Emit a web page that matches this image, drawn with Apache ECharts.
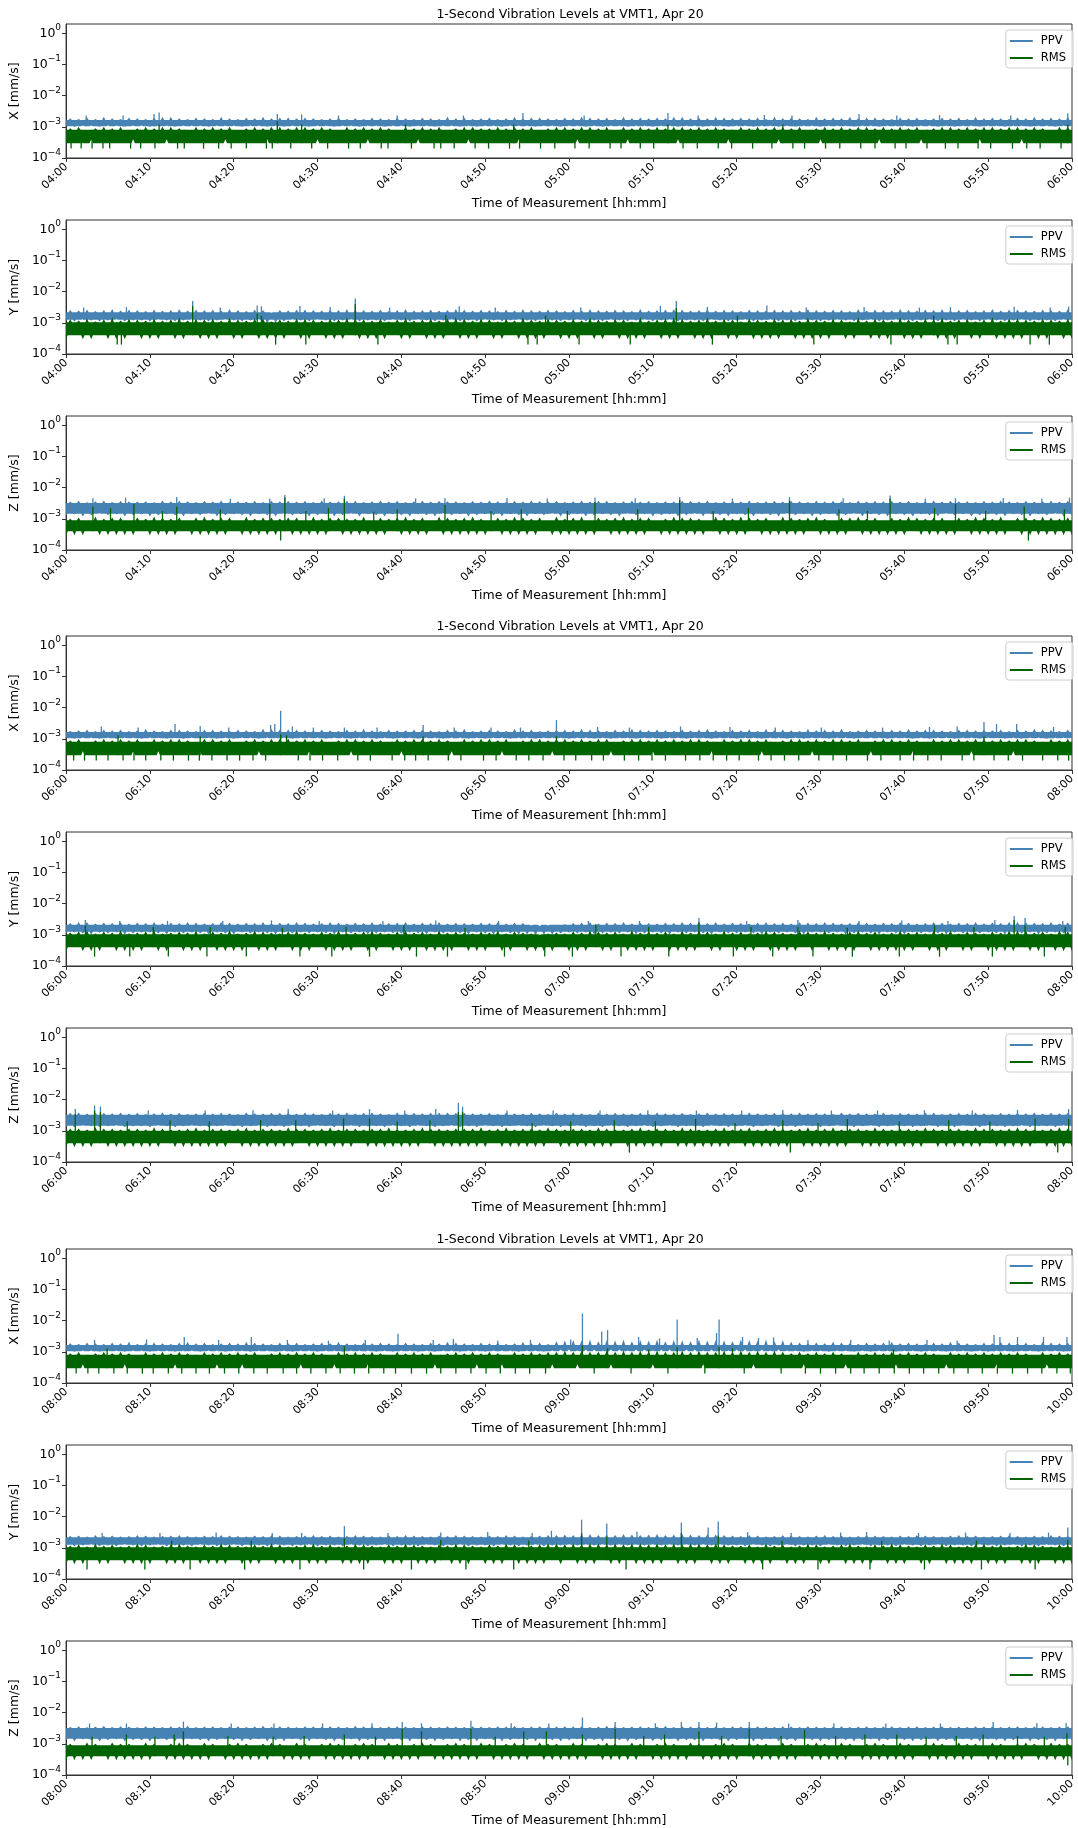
<!DOCTYPE html>
<html><head><meta charset="utf-8">
<script src="https://cdn.jsdelivr.net/npm/echarts@6/dist/echarts.min.js"></script>
<style>html,body{margin:0;padding:0;background:#fff}#c{width:1078px;height:1828px}</style>
</head><body><div id="c"></div>
<script>
// All velocity values below are in units of 1e-4 mm/s (the sensor resolution).
// *_BODY: [lower, upper] level of the solid part of the trace band
// *_HI  : highest sample in each minute (drawn at minute + 30 s)
// *_LO  : lowest sample at each minute mark (0..120 min)
// *_SPK : isolated 1-second peaks / dips as [minute, value]
const UNIT = 1e-4;
const TITLE = '1-Second Vibration Levels at VMT1, Apr 20';
const TICKS_04 = ['04:00','04:10','04:20','04:30','04:40','04:50','05:00','05:10','05:20','05:30','05:40','05:50','06:00'];
const TICKS_06 = ['06:00','06:10','06:20','06:30','06:40','06:50','07:00','07:10','07:20','07:30','07:40','07:50','08:00'];
const TICKS_08 = ['08:00','08:10','08:20','08:30','08:40','08:50','09:00','09:10','09:20','09:30','09:40','09:50','10:00'];

// ---------- X, 04:00-06:00 ----------
const X04_PPV_BODY = [10.5, 16.5];
const X04_RMS_BODY = [3, 8];
const X04_PPV_HI = [
19,18,20,18,21,19,18,20,19,18,
20,21,21,19,18,20,19,18,21,19,
18,20,19,21,19,20,20,19,20,19,
18,19,20,18,19,18,20,19,18,20,
19,18,20,19,18,21,19,20,18,19,
20,18,19,21,19,20,20,19,18,20,
19,21,20,19,20,18,21,19,20,19,
20,19,21,21,19,20,19,21,20,19,
20,19,20,18,21,19,20,19,18,21,
19,20,19,21,19,20,20,19,18,20,
19,20,18,19,20,19,20,18,21,19,
20,19,18,20,19,21,19,20,19,21];
const X04_PPV_LO = [
11,10,11,11,10,11,11,10,11,11,
10,11,11,10,11,11,11,10,11,11,
11,10,11,11,10,11,10,11,11,10,
11,11,10,11,11,10,11,11,10,11,
11,10,11,11,10,11,11,10,11,10,
11,11,10,11,11,11,10,11,11,10,
11,11,10,11,10,11,11,10,11,11,
10,11,11,10,11,11,10,11,11,10,
11,11,10,11,11,10,11,10,11,11,
10,11,11,11,10,11,11,10,11,11,
11,10,11,11,10,11,10,11,11,10,
11,11,10,11,11,10,11,11,10,11,
11];
const X04_RMS_HI = [
9,10,8,9,10,9,10,8,9,10,
9,10,10,9,8,10,9,10,9,10,
8,9,10,9,10,10,9,10,10,9,
10,9,8,10,9,10,9,10,9,8,
10,9,10,9,10,8,9,10,10,9,
9,10,9,10,9,10,8,9,10,10,
9,10,10,9,10,8,10,9,10,9,
10,9,10,10,9,10,9,10,9,8,
10,9,10,9,10,10,9,10,8,9,
10,9,10,9,10,10,9,10,9,10,
9,10,8,9,10,10,9,10,9,10,
10,9,10,10,9,10,9,8,10,10];
const X04_RMS_LO = [
3,3,3,4,3,3,3,3,4,3,
3,3,4,3,3,3,3,3,3,4,
3,3,3,3,4,3,3,3,3,3,
4,3,3,3,3,3,4,3,3,3,
3,3,4,3,3,3,3,3,4,3,
3,3,3,3,4,3,3,3,3,3,
3,4,3,3,3,3,3,4,3,3,
3,3,3,4,3,3,3,3,3,4,
3,3,3,3,3,4,3,3,3,3,
4,3,3,3,3,3,3,4,3,3,
3,3,4,3,3,3,3,3,3,4,
3,3,3,3,4,3,3,3,3,3,
3];
const X04_PPV_SPK = [[2.4,23],[6.8,23],[10.5,26],[11.1,29],[25.2,26],[28.1,25],[32.5,23],[39.5,23],[47.4,23],[54.5,28],[61.8,23],[71.8,28],[75.4,23],[83.3,24],[86.6,23],[94.6,26],[99.1,23],[104.2,24],[112.7,23],[119.5,27]];
const X04_RMS_SPK = [[11.1,12],[25.2,15],[28.1,12],[40.5,12],[53.4,12],[71.8,12],[85.5,12],[119.5,12],
[0.6,2],[1.8,2],[3.1,2],[4.4,2],[5.2,2],[7.7,2],[8.9,2],[10.6,2],[13.3,2],[14.1,2],[16.4,2],[18.2,2],[19.7,2],[21.5,2],[23.9,2],[24.6,2],[26.8,2],[29.3,2],[31.2,2],[33.7,2],[35.1,2],[37.6,2],[38.4,2],[41.2,2],[43.9,2],[44.7,2],[46.3,2],[48.8,2],[50.4,2],[52.9,2],[54.1,2],[56.6,2],[58.3,2],[60.7,2],[62.4,2],[64.9,2],[66.2,2],[68.5,2],[70.1,2],[73.6,2],[75.3,2],[77.8,2],[79.4,2],[81.9,2],[84.2,2],[86.7,2],[88.1,2],[90.6,2],[92.3,2],[94.8,2],[96.5,2],[98.9,2],[100.2,2],[102.7,2],[104.9,2],[106.4,2],[108.8,2],[110.3,2],[112.9,2],[114.6,2],[116.2,2],[118.7,2]];

// ---------- Y, 04:00-06:00 ----------
const Y04_PPV_BODY = [12.5, 22];
const Y04_RMS_BODY = [4, 10.5];
const Y04_PPV_HI = [
26,25,27,24,26,28,25,27,26,24,
27,25,26,28,25,27,26,27,25,28,
26,24,27,26,21,26,25,27,27,26,
25,27,26,28,26,26,25,27,24,26,
28,25,26,27,25,26,28,27,25,27,
26,24,27,25,28,26,25,27,26,24,
27,25,28,26,25,27,26,24,28,25,
26,27,28,27,25,26,28,25,27,26,
24,27,26,25,27,26,27,25,28,26,
25,27,26,24,28,25,27,26,25,28,
26,25,27,26,28,25,26,27,24,26,
28,25,27,27,26,25,27,26,25,28];
const Y04_PPV_LO = [
12,11,13,12,11,12,13,11,12,12,
11,13,12,11,12,13,12,11,12,13,
12,11,12,13,9,10,11,13,12,11,
13,12,11,12,13,11,12,12,11,13,
12,11,13,12,11,12,13,11,12,11,
13,12,11,12,13,12,11,13,12,11,
12,13,11,12,11,13,12,11,12,13,
11,12,13,11,12,12,11,13,12,11,
12,13,11,12,13,11,12,11,13,12,
11,12,13,12,11,12,13,11,12,13,
12,11,12,13,11,12,11,13,12,11,
13,12,11,12,13,11,12,12,11,13,
12];
const Y04_RMS_HI = [
13,12,14,11,13,15,12,14,13,12,
14,12,13,15,12,14,13,14,12,15,
13,12,14,14,11,13,12,14,14,13,
12,14,13,15,14,13,12,14,11,13,
15,12,13,14,12,14,15,14,12,14,
13,11,14,12,15,13,12,14,13,12,
14,12,15,13,12,14,13,11,15,12,
13,14,15,14,12,13,15,12,14,13,
11,14,13,12,14,13,14,12,15,13,
12,14,13,11,15,12,14,13,12,15,
13,12,14,13,15,12,13,14,11,13,
15,12,14,14,13,12,14,13,12,14];
const Y04_RMS_LO = [
3,4,3,3,4,3,3,3,4,3,
3,3,4,3,3,4,3,3,3,4,
3,3,4,3,3,3,3,4,3,3,
4,3,3,3,4,3,3,3,3,4,
3,3,4,3,3,3,4,3,3,3,
4,3,3,4,3,3,3,3,4,3,
3,3,4,3,3,4,3,3,3,3,
4,3,3,3,4,3,3,3,4,3,
3,4,3,3,3,3,4,3,3,3,
3,3,4,3,3,4,3,3,3,4,
3,3,3,4,3,3,3,4,3,3,
4,3,3,3,3,4,3,3,4,3,
3];
const Y04_PPV_SPK = [[2.1,31],[7.2,32],[15.1,50],[18.4,31],[22.8,36],[23.3,34],[27.9,35],[31.5,32],[34.5,60],[38.6,31],[46.9,34],[51.2,31],[61.4,31],[70.9,35],[72.8,50],[76.5,32],[83.6,36],[88.3,31],[95.2,32],[101.8,31],[105.5,32],[113.1,33],[117.4,31],[119.6,33]];
const Y04_RMS_SPK = [[15.1,35],[34.5,40],[72.8,30],[22.8,20],[45.3,18],[23.3,17],[57.2,17],[80.1,17],[103.5,17],
[6.1,2],[6.6,2],[25.0,2],[28.6,2],[37.2,2],[55.1,2],[56.2,2],[61.2,2],[67.3,2],[77.1,2],[89.2,2],[98.4,2],[105.2,2],[106.3,2],[115.0,2],[117.3,2]];

// ---------- Z, 04:00-06:00 ----------
const Z04_PPV_BODY = [14.5, 32.5];
const Z04_RMS_BODY = [4, 9];
const Z04_PPV_HI = [
36,38,34,37,39,35,38,37,36,37,
34,39,36,38,37,35,38,36,39,34,
37,36,38,35,38,37,38,36,38,35,
39,36,37,38,38,35,37,39,36,38,
35,37,39,36,38,37,37,35,38,36,
39,37,35,38,36,39,37,36,38,35,
37,39,36,38,38,35,37,39,36,38,
35,37,36,38,38,36,39,35,37,38,
36,39,35,37,38,36,38,37,35,39,
36,38,37,35,39,36,38,37,38,36,
38,35,37,39,36,38,37,37,35,38,
36,39,37,35,38,36,37,39,36,38];
const Z04_PPV_LO = [
13,14,12,13,15,13,14,12,13,14,
12,13,14,13,12,14,13,15,12,13,
14,13,12,14,13,12,15,13,14,12,
13,14,12,13,15,12,14,13,12,14,
13,12,14,13,12,15,13,14,12,13,
14,13,12,14,13,12,14,13,15,12,
13,14,12,13,14,13,12,15,13,14,
12,13,14,12,13,15,12,14,13,12,
14,13,12,14,13,12,15,13,14,12,
13,14,12,13,15,12,14,13,12,14,
13,12,14,13,12,15,13,14,12,13,
14,13,12,14,13,12,14,13,15,12,
13];
const Z04_RMS_HI = [
10,11,9,12,10,11,11,9,11,10,
12,11,10,11,9,11,12,10,11,11,
9,12,10,11,11,10,11,11,9,12,
10,11,11,10,10,12,9,11,10,11,
12,10,11,9,12,11,10,11,12,10,
9,11,10,12,11,10,11,9,12,10,
11,12,9,11,10,11,12,10,11,11,
9,10,12,11,11,10,9,12,11,10,
12,11,10,11,9,12,11,10,11,12,
10,9,11,11,12,10,11,9,11,10,
12,11,10,11,11,9,11,10,12,11,
10,12,9,11,11,10,12,11,10,11];
const Z04_RMS_LO = [
3,3,3,4,3,3,3,3,3,4,
3,3,3,3,4,3,3,3,3,3,
4,3,3,3,3,3,4,3,3,3,
3,3,4,3,3,3,3,3,3,4,
3,3,3,3,4,3,3,3,3,3,
3,4,3,3,3,3,3,4,3,3,
3,3,3,3,4,3,3,3,3,3,
4,3,3,3,3,3,3,4,3,3,
3,3,4,3,3,3,3,3,3,4,
3,3,3,3,4,3,3,3,3,3,
3,4,3,3,3,3,3,4,3,3,
3,3,3,4,3,3,3,3,3,3,
3];
const Z04_PPV_SPK = [[3.2,46],[7.1,48],[13.2,50],[19.6,45],[24.3,45],[26.1,58],[30.8,46],[33.2,55],[41.7,45],[45.2,46],[52.6,47],[57.4,45],[63.1,48],[67.9,46],[73.2,50],[79.5,45],[86.3,50],[92.7,46],[98.3,56],[102.5,45],[106.1,46],[111.8,47],[116.4,45],[119.7,48]];
const Z04_RMS_SPK = [[3.2,25],[5.3,22],[8.1,30],[11.5,18],[13.2,25],[18.4,20],[24.3,30],[26.1,48],[28.6,18],[31.3,22],[33.2,45],[36.7,17],[39.5,20],[45.2,28],[50.7,18],[54.3,20],[59.8,18],[63.1,35],[68.2,20],[73.2,40],[77.2,18],[81.4,22],[86.3,38],[92.2,20],[95.6,18],[98.3,45],[103.6,22],[106.1,30],[109.7,18],[114.3,25],[119.1,20],
[25.6,2],[114.8,2]];

// ---------- X, 06:00-08:00 ----------
const X06_PPV_BODY = [10.5, 16.5];
const X06_RMS_BODY = [3, 8];
const X06_PPV_HI = [
18,19,20,18,20,19,20,18,19,21,
19,18,20,20,19,18,20,20,19,18,
20,19,18,21,21,20,20,20,19,18,
20,19,18,20,19,21,19,18,20,19,
19,20,20,19,18,20,19,21,18,19,
20,19,18,21,19,20,18,19,20,20,
19,21,20,19,18,20,19,21,20,19,
20,19,18,20,19,20,21,19,18,20,
19,20,18,21,19,20,19,18,21,19,
20,19,21,18,19,20,19,18,20,19,
21,19,20,20,19,18,20,20,19,20,
19,20,18,20,19,21,20,19,18,20];
const X06_PPV_LO = [
11,10,11,11,10,11,10,11,11,10,
11,11,10,11,10,11,11,11,10,11,
10,11,11,10,11,11,11,10,11,11,
11,10,11,11,10,11,11,10,11,10,
11,11,10,11,11,10,11,11,10,11,
10,11,11,10,11,11,10,11,11,11,
10,11,11,10,11,10,11,11,10,11,
11,10,11,11,10,11,11,10,11,11,
10,11,11,10,11,11,10,11,10,11,
11,10,11,11,10,11,11,11,10,11,
11,10,11,10,11,11,10,11,11,10,
11,11,10,11,10,11,11,10,11,11,
11];
const X06_RMS_HI = [
9,10,8,9,10,9,10,9,10,8,
10,9,10,10,9,8,10,10,9,10,
8,9,10,9,10,10,10,9,10,9,
10,8,9,10,10,9,10,9,8,10,
9,10,10,9,10,9,8,10,9,10,
10,9,10,8,9,10,10,9,10,10,
9,10,9,10,10,8,9,10,10,9,
10,9,10,9,10,10,9,8,10,9,
10,10,9,10,8,9,10,10,9,10,
9,10,10,9,10,8,9,10,10,9,
10,9,8,10,9,10,10,9,10,10,
9,10,9,10,10,9,8,10,9,10];
const X06_RMS_LO = [
3,3,4,3,3,3,3,3,4,3,
3,4,3,3,3,3,4,3,3,3,
3,3,3,4,3,3,3,3,3,4,
3,3,3,3,4,3,3,3,3,3,
4,3,3,3,3,3,4,3,3,3,
3,3,4,3,3,3,3,3,4,3,
3,3,3,3,3,4,3,3,3,3,
4,3,3,3,3,3,3,4,3,3,
3,3,3,4,3,3,3,3,3,4,
3,3,3,3,3,3,4,3,3,3,
3,4,3,3,3,3,3,3,4,3,
3,3,3,4,3,3,3,3,3,3,
3];
const X06_PPV_SPK = [[4.2,25],[8.6,23],[13.0,30],[16.0,26],[19.4,23],[24.4,28],[24.9,30],[25.6,80],[27.0,25],[29.5,23],[33.2,23],[37.1,23],[42.6,28],[46.3,23],[50.7,23],[54.2,23],[58.5,40],[63.4,24],[67.2,23],[73.3,25],[79.2,24],[84.6,23],[90.1,23],[97.4,23],[103.0,24],[106.3,25],[109.5,35],[111.0,30],[113.4,30],[117.8,24]];
const X06_RMS_SPK = [[6.2,13],[16.0,12],[25.6,14],[26.3,13],[42.6,12],[58.5,12],[109.5,12],
[0.9,2],[2.2,2],[3.6,2],[5.0,2],[6.8,2],[8.1,2],[9.5,2],[11.3,2],[12.8,2],[14.6,2],[15.9,2],[17.4,2],[19.2,2],[20.7,2],[22.3,2],[23.8,2],[27.7,2],[29.1,2],[30.6,2],[32.4,2],[34.8,2],[36.3,2],[38.9,2],[40.4,2],[41.7,2],[43.2,2],[45.6,2],[47.1,2],[49.8,2],[51.3,2],[53.7,2],[55.2,2],[56.9,2],[59.4,2],[60.8,2],[62.7,2],[64.1,2],[66.6,2],[68.3,2],[69.9,2],[71.5,2],[73.9,2],[75.6,2],[77.2,2],[78.8,2],[80.3,2],[82.6,2],[84.1,2],[85.7,2],[87.4,2],[89.8,2],[91.5,2],[93.1,2],[95.6,2],[97.2,2],[99.5,2],[101.1,2],[102.8,2],[104.4,2],[106.9,2],[108.3,2],[110.7,2],[112.4,2],[114.1,2],[116.5,2],[118.3,2],[119.6,2]];

// ---------- Y, 06:00-08:00 ----------
const Y06_PPV_BODY = [12.5, 21];
const Y06_RMS_BODY = [4, 10.5];
const Y06_PPV_HI = [
24,26,26,23,25,24,26,23,25,24,
26,23,25,24,26,25,23,24,26,25,
23,25,24,26,23,25,24,26,25,23,
24,26,25,23,25,24,26,23,24,25,
26,23,25,24,26,23,25,24,23,25,
24,26,23,25,24,20,19,20,21,22,
24,25,26,23,25,24,26,23,25,24,
23,25,24,26,25,26,24,26,23,25,
24,23,25,26,24,25,23,26,25,24,
26,25,23,24,26,25,23,25,24,26,
25,23,24,26,25,23,25,24,26,23,
25,24,26,26,26,25,24,26,23,25];
const Y06_PPV_LO = [
11,12,11,10,12,11,12,10,11,12,
12,11,10,12,11,12,11,10,12,11,
10,12,11,12,11,10,12,11,12,11,
12,11,10,12,11,12,10,11,12,11,
11,12,11,10,12,11,12,11,10,12,
11,10,12,11,10,10,9,10,10,11,
12,11,12,10,11,12,11,12,10,11,
12,11,10,12,11,12,11,10,12,11,
11,12,11,10,12,11,12,11,10,12,
12,11,12,10,11,12,11,10,12,11,
10,12,11,12,11,10,12,11,12,11,
12,11,10,12,11,12,10,11,12,11,
12];
const Y06_RMS_HI = [
12,13,14,11,13,12,14,11,12,13,
14,11,12,13,12,14,11,13,12,14,
11,12,14,13,12,11,13,14,12,11,
13,12,14,11,12,13,14,12,11,13,
14,12,13,11,14,12,13,12,11,13,
12,14,11,13,12,11,10,11,12,11,
13,12,14,13,12,13,11,14,12,13,
12,13,11,14,12,14,13,11,14,12,
13,11,12,14,13,12,11,14,13,12,
14,12,11,13,14,12,13,11,12,14,
12,13,11,14,12,14,11,13,12,11,
13,12,14,14,14,12,13,11,14,13];
const Y06_RMS_LO = [
3,4,3,3,3,4,3,3,3,3,
4,3,3,4,3,3,3,4,3,3,
3,3,4,3,3,3,4,3,3,3,
4,3,3,3,3,4,3,3,4,3,
3,3,4,3,3,3,3,4,3,3,
3,4,3,3,4,3,3,3,3,4,
3,3,3,4,3,3,4,3,3,3,
3,4,3,3,3,3,4,3,3,4,
3,3,3,4,3,3,3,3,4,3,
4,3,3,3,3,4,3,3,3,3,
3,3,4,3,3,3,4,3,3,4,
3,3,3,3,4,3,3,4,3,3,
3];
const Y06_PPV_SPK = [[2.3,30],[6.4,28],[12.1,28],[18.7,28],[24.5,29],[30.2,28],[37.8,28],[44.1,29],[51.6,28],[62.3,28],[68.4,28],[75.5,35],[81.2,28],[87.3,30],[94.6,28],[99.7,29],[105.2,28],[110.8,30],[113.1,40],[114.4,35],[118.9,28]];
const Y06_RMS_SPK = [[2.3,20],[10.4,18],[17.2,18],[25.8,17],[33.4,18],[40.3,20],[47.6,17],[63.2,22],[69.5,18],[75.5,25],[81.7,18],[87.3,18],[93.2,17],[103.6,20],[108.3,18],[113.1,30],[114.4,20],[119.2,18],
[3.4,2],[7.6,2],[12.2,2],[16.8,2],[21.5,2],[27.9,2],[31.7,2],[36.2,2],[41.8,2],[45.5,2],[52.3,2],[57.1,2],[60.4,2],[66.2,2],[71.9,2],[79.6,2],[84.3,2],[89.1,2],[93.8,2],[99.4,2],[104.2,2],[110.5,2],[116.7,2]];

// ---------- Z, 06:00-08:00 ----------
const Z06_PPV_BODY = [14.5, 33];
const Z06_RMS_BODY = [4, 10];
const Z06_PPV_HI = [
38,39,36,38,38,37,39,36,38,35,
37,39,36,38,35,37,39,36,38,37,
35,39,37,36,38,38,39,36,39,37,
35,38,37,39,36,38,39,37,35,39,
36,38,37,38,39,39,38,38,37,36,
38,35,39,37,36,38,37,35,39,36,
38,37,35,39,36,38,37,36,38,35,
39,37,36,38,35,37,39,36,38,37,
35,39,37,36,38,38,37,39,36,38,
37,35,39,36,38,37,36,39,35,38,
37,36,38,39,35,37,38,36,39,37,
35,38,36,38,37,39,36,38,37,38];
const Z06_PPV_LO = [
14,13,15,14,13,14,15,13,14,14,
13,15,14,13,14,15,14,13,14,15,
14,13,14,15,13,14,13,15,14,13,
15,14,13,14,15,13,14,14,13,15,
14,13,15,14,13,14,15,13,14,13,
15,14,13,14,15,14,13,15,14,13,
14,15,13,14,13,15,14,13,14,15,
13,14,15,13,14,14,13,15,14,13,
14,15,13,14,15,13,14,13,15,14,
13,14,15,14,13,14,15,13,14,15,
14,13,14,15,13,14,13,15,14,13,
15,14,13,14,15,13,14,14,13,15,
14];
const Z06_RMS_HI = [
12,12,11,13,12,12,11,12,12,11,
13,12,11,11,12,13,11,12,12,11,
12,13,11,12,12,11,13,12,12,11,
12,13,11,12,12,11,12,12,13,11,
11,12,13,12,12,11,12,12,12,13,
11,12,13,11,12,12,11,13,12,11,
12,12,11,13,12,11,11,12,13,11,
12,12,11,13,12,11,11,12,13,11,
12,13,11,12,13,12,11,12,13,11,
12,13,11,12,12,11,13,12,11,12,
12,11,13,12,11,12,12,11,13,12,
12,11,12,13,12,11,11,12,13,12];
const Z06_RMS_LO = [
3,3,3,3,4,3,3,3,3,3,
3,3,4,3,3,3,3,3,3,3,
4,3,3,3,3,3,3,3,4,3,
3,3,3,3,3,4,3,3,3,3,
3,3,3,4,3,3,3,3,3,3,
3,4,3,3,3,3,3,3,4,3,
3,3,3,3,3,3,4,3,3,3,
3,3,4,3,3,3,3,3,3,3,
4,3,3,3,3,3,3,4,3,3,
3,3,3,3,4,3,3,3,3,3,
3,3,3,4,3,3,3,3,3,3,
4,3,3,3,3,3,4,3,3,3,
3];
const Z06_PPV_SPK = [[1.1,50],[3.4,65],[4.1,60],[9.8,45],[16.6,45],[22.3,46],[26.5,50],[31.8,45],[36.2,50],[40.4,45],[44.1,50],[46.8,80],[47.3,60],[52.6,45],[58.1,45],[63.7,45],[69.4,46],[75.2,45],[80.6,45],[85.5,47],[91.3,45],[96.8,45],[102.4,46],[108.1,45],[113.5,47],[119.6,50]];
const Z06_RMS_SPK = [[1.1,35],[3.4,45],[4.1,40],[7.3,20],[12.4,22],[17.1,20],[23.2,22],[27.4,22],[33.1,25],[36.2,25],[39.5,20],[43.4,22],[46.8,40],[47.3,40],[55.6,18],[60.2,20],[65.4,22],[70.3,20],[75.1,24],[79.8,18],[85.5,22],[89.7,18],[93.2,24],[99.4,20],[105.3,22],[110.2,20],[115.6,25],[119.6,24],
[67.2,2],[86.4,2],[118.3,2]];

// ---------- X, 08:00-10:00 ----------
const X08_PPV_BODY = [10.5, 16.5];
const X08_RMS_BODY = [3, 8];
const X08_PPV_HI = [
19,18,20,19,18,20,19,21,18,19,
20,19,18,20,21,19,20,18,19,20,
19,21,20,19,18,20,19,20,18,19,
20,19,21,19,18,20,19,20,19,18,
20,19,18,20,19,21,20,19,18,20,
19,20,18,19,21,19,20,18,22,23,
24,23,25,22,24,23,25,22,24,23,
25,22,24,23,22,25,23,24,23,22,
25,24,23,25,22,24,21,20,19,20,
19,21,20,19,18,20,19,20,21,19,
20,19,18,20,19,21,20,19,18,20,
19,21,20,19,20,18,21,20,19,20];
const X08_PPV_LO = [
11,10,11,11,10,11,11,10,11,11,
10,11,11,10,11,11,10,11,11,10,
11,11,10,11,11,10,11,10,11,11,
10,11,11,10,11,11,11,10,11,10,
11,11,10,11,10,11,11,10,11,11,
10,11,11,11,10,11,11,10,11,12,
12,11,12,12,11,12,12,11,12,12,
11,12,12,11,12,12,11,12,12,11,
12,12,11,12,11,12,11,11,10,11,
11,10,11,11,10,11,10,11,11,10,
11,11,10,11,11,10,11,11,10,11,
10,11,11,10,11,11,10,11,11,10,
11];
const X08_RMS_HI = [
9,10,8,9,10,9,10,9,8,10,
9,10,9,10,9,8,10,9,10,9,
10,9,10,8,9,10,9,10,9,10,
9,8,10,9,10,9,10,9,8,10,
9,10,9,10,8,9,10,9,10,9,
10,9,8,10,9,10,9,10,10,11,
10,11,10,10,11,10,11,10,11,10,
11,10,10,11,10,11,10,10,11,10,
11,10,11,10,11,10,9,10,9,10,
9,10,9,8,10,9,10,9,10,9,
10,9,10,9,8,10,9,10,9,10,
9,10,9,10,9,8,10,9,10,9];
const X08_RMS_LO = [
3,3,4,3,3,3,3,4,3,3,
3,3,3,4,3,3,3,3,4,3,
3,4,3,3,3,3,3,3,4,3,
3,3,4,3,3,3,4,3,3,3,
3,3,3,3,4,3,3,3,3,4,
3,3,4,3,3,3,3,3,4,3,
3,4,3,3,3,4,3,3,3,3,
4,3,3,3,3,3,4,3,3,3,
3,3,4,3,3,3,3,3,4,3,
3,3,3,4,3,3,3,3,3,4,
3,3,3,3,3,4,3,3,3,3,
3,4,3,3,3,3,3,4,3,3,
3];
const X08_PPV_SPK = [[3.4,24],[9.6,25],[14.1,30],[18.2,24],[22.1,30],[26.4,24],[31.3,23],[35.7,24],[39.6,38],[43.8,24],[46.2,26],[51.5,23],[55.4,24],[60.2,25],[61.6,170],[63.9,45],[64.6,50],[68.3,30],[70.8,27],[72.9,110],[75.3,28],[77.6,40],[77.9,110],[80.7,30],[82.6,28],[84.4,29],[88.5,24],[93.6,24],[98.2,23],[102.7,24],[106.3,23],[110.7,35],[111.4,30],[113.5,30],[116.6,30],[119.4,30]];
const X08_RMS_SPK = [[4.9,13],[33.2,15],[61.6,16],[64.6,13],[69.5,12],[72.9,14],[77.9,14],[79.5,13],[98.7,12],
[1.2,2],[2.6,2],[3.9,2],[5.7,2],[7.3,2],[9.1,2],[10.4,2],[12.2,2],[13.8,2],[15.5,2],[17.1,2],[18.9,2],[20.6,2],[22.4,2],[24.0,2],[25.9,2],[27.5,2],[29.2,2],[31.0,2],[32.7,2],[34.4,2],[36.1,2],[37.9,2],[39.3,2],[41.2,2],[43.0,2],[44.7,2],[46.5,2],[48.3,2],[50.1,2],[51.8,2],[53.6,2],[55.3,2],[57.2,2],[63.0,2],[67.4,2],[71.8,2],[76.2,2],[80.9,2],[85.3,2],[88.2,2],[90.0,2],[91.8,2],[93.6,2],[95.2,2],[97.0,2],[98.8,2],[100.6,2],[102.3,2],[104.1,2],[105.9,2],[107.6,2],[109.3,2],[111.1,2],[112.9,2],[114.7,2],[116.4,2],[118.2,2],[119.8,2]];

// ---------- Y, 08:00-10:00 ----------
const Y08_PPV_BODY = [12.5, 22];
const Y08_RMS_BODY = [4, 10.5];
const Y08_PPV_HI = [
24,25,23,26,24,25,23,24,26,25,
23,24,25,26,24,23,25,24,26,25,
24,23,25,24,26,25,23,24,25,26,
24,25,23,24,26,25,24,23,25,24,
26,25,24,23,25,24,26,25,24,23,
25,24,26,25,23,24,25,26,26,27,
26,27,28,26,27,26,28,27,26,27,
28,26,27,28,27,26,28,27,26,25,
24,26,25,23,24,26,25,24,23,25,
26,24,25,23,24,26,25,24,23,25,
24,26,25,24,23,25,26,24,25,23,
24,25,26,24,23,25,24,26,25,24];
const Y08_PPV_LO = [
12,11,12,13,11,12,11,13,12,11,
12,13,11,12,12,11,13,12,11,12,
13,11,12,12,11,13,12,11,12,13,
11,12,12,11,13,12,11,12,13,11,
12,12,11,13,12,11,12,13,11,12,
12,11,13,12,11,12,13,11,12,12,
13,12,13,12,13,12,13,12,13,12,
13,12,13,12,13,12,13,12,13,12,
12,11,13,12,11,12,13,11,12,12,
11,13,12,11,12,13,11,12,12,11,
13,12,11,12,13,11,12,12,11,13,
12,11,12,13,11,12,11,13,12,11,
12];
const Y08_RMS_HI = [
12,13,11,14,12,13,11,12,14,13,
11,12,13,14,12,11,13,12,14,13,
12,11,13,12,14,13,11,12,13,14,
12,13,11,12,14,13,12,11,13,12,
14,13,12,11,13,12,14,13,12,11,
13,12,14,13,11,12,13,14,14,13,
14,13,14,14,13,14,13,14,14,13,
14,13,14,13,14,14,13,14,13,12,
12,13,11,14,12,13,11,12,14,13,
11,12,13,14,12,11,13,12,14,13,
12,11,13,12,14,13,11,12,13,14,
12,13,11,12,14,13,12,11,13,12];
const Y08_RMS_LO = [
3,3,3,4,3,3,4,3,3,3,
3,4,3,3,3,4,3,3,3,3,
4,3,3,3,4,3,3,3,4,3,
3,3,4,3,3,3,3,4,3,3,
3,4,3,3,3,4,3,3,3,4,
3,3,3,4,3,3,3,3,4,3,
4,3,3,3,4,3,3,4,3,3,
3,3,4,3,3,3,4,3,3,3,
4,3,3,3,3,4,3,3,3,4,
3,3,4,3,3,3,3,4,3,3,
3,4,3,3,4,3,3,3,3,4,
3,3,3,4,3,3,3,4,3,3,
3];
const Y08_PPV_SPK = [[4.3,30],[11.2,30],[17.9,31],[24.6,30],[28.1,30],[33.2,50],[38.4,30],[44.7,31],[50.3,32],[55.6,30],[57.9,35],[61.5,80],[64.5,60],[68.1,33],[73.4,65],[76.6,45],[77.8,70],[81.3,32],[86.5,30],[92.4,31],[95.5,32],[101.7,30],[107.3,31],[112.6,30],[117.2,31],[119.5,45]];
const Y08_RMS_SPK = [[12.6,17],[22.1,17],[33.2,20],[44.7,18],[55.2,17],[61.5,30],[64.5,22],[73.4,30],[77.8,25],[85.4,17],[97.3,17],[108.6,17],[119.5,18],
[2.5,2],[9.4,2],[14.8,2],[21.3,2],[27.9,2],[35.5,2],[41.2,2],[47.7,2],[53.4,2],[66.8,2],[83.1,2],[89.7,2],[95.9,2],[102.4,2],[109.2,2],[115.6,2]];

// ---------- Z, 08:00-10:00 ----------
const Z08_PPV_BODY = [14.5, 32];
const Z08_RMS_BODY = [4, 9];
const Z08_PPV_HI = [
35,37,34,36,38,35,37,36,34,37,
36,35,37,36,38,35,36,37,35,36,
37,35,36,38,35,37,36,34,37,36,
35,37,36,35,38,36,37,35,36,37,
36,35,37,36,35,37,36,35,37,36,
35,37,36,38,35,36,37,35,36,37,
36,37,35,36,38,37,35,36,37,35,
36,38,35,37,36,37,35,36,35,37,
36,35,37,36,35,37,36,35,37,36,
35,36,37,35,36,37,35,36,37,35,
36,37,35,36,37,35,36,35,37,36,
37,35,36,37,35,36,37,35,36,37];
const Z08_PPV_LO = [
13,12,14,13,12,13,14,12,13,13,
12,14,13,12,13,14,13,12,13,14,
13,12,13,14,12,13,12,14,13,12,
14,13,12,13,14,12,13,13,12,14,
13,12,14,13,12,13,14,12,13,12,
14,13,12,13,14,13,12,14,13,12,
13,14,12,13,12,14,13,12,13,14,
12,13,14,12,13,13,12,14,13,12,
13,14,12,13,14,12,13,12,14,13,
12,13,14,13,12,13,14,12,13,14,
13,12,13,14,12,13,12,14,13,12,
14,13,12,13,14,12,13,13,12,14,
13];
const Z08_RMS_HI = [
10,9,11,10,9,11,10,10,9,11,
10,9,10,11,10,9,11,10,9,10,
11,10,9,10,11,10,9,11,10,9,
10,11,10,9,10,11,10,9,11,10,
9,10,11,10,9,10,11,10,9,11,
10,9,10,11,10,9,11,10,10,9,
11,10,9,10,11,10,9,11,10,9,
10,11,10,9,11,10,9,10,11,10,
9,11,10,10,9,11,10,9,10,11,
10,9,11,10,9,10,11,10,9,11,
10,9,10,11,10,9,11,10,10,9,
11,10,9,10,11,10,9,11,10,10];
const Z08_RMS_LO = [
3,3,3,3,4,3,3,3,3,3,
3,4,3,3,3,3,3,3,4,3,
3,3,3,3,3,4,3,3,3,3,
4,3,3,3,3,3,3,4,3,3,
3,3,3,4,3,3,3,3,3,3,
4,3,3,3,3,3,4,3,3,3,
3,3,3,4,3,3,3,3,3,4,
3,3,3,3,3,4,3,3,3,3,
3,4,3,3,3,3,3,3,4,3,
3,3,3,3,4,3,3,3,3,3,
3,3,4,3,3,3,3,3,3,4,
3,3,3,3,3,4,3,3,3,3,
3];
const Z08_PPV_SPK = [[2.8,45],[7.2,45],[14.0,52],[19.7,45],[24.8,45],[30.6,45],[36.5,46],[40.1,50],[42.4,46],[48.3,55],[53.1,46],[57.6,45],[61.6,70],[65.5,50],[70.3,46],[73.4,50],[75.5,50],[77.6,48],[81.5,50],[86.2,45],[91.6,46],[97.8,45],[104.3,45],[110.6,50],[115.8,46],[119.3,47]];
const Z08_RMS_SPK = [[3.1,17],[7.2,20],[10.6,17],[12.9,20],[14.0,25],[19.3,18],[24.7,17],[28.4,18],[33.2,20],[36.9,17],[40.1,30],[42.4,25],[48.3,30],[51.2,17],[54.6,25],[57.3,25],[61.6,20],[65.5,30],[68.9,18],[71.4,20],[75.5,25],[78.2,18],[81.5,30],[85.3,18],[88.1,28],[91.8,18],[95.3,20],[99.1,20],[102.6,17],[106.2,18],[109.4,20],[113.5,18],[116.7,17],[119.4,22],
[119.5,2]];

const PANELS = [
  {comp:'X', ticks:TICKS_04, ppvBody:X04_PPV_BODY, rmsBody:X04_RMS_BODY, ppvHi:X04_PPV_HI, ppvLo:X04_PPV_LO, rmsHi:X04_RMS_HI, rmsLo:X04_RMS_LO, ppvSpk:X04_PPV_SPK, rmsSpk:X04_RMS_SPK},
  {comp:'Y', ticks:TICKS_04, ppvBody:Y04_PPV_BODY, rmsBody:Y04_RMS_BODY, ppvHi:Y04_PPV_HI, ppvLo:Y04_PPV_LO, rmsHi:Y04_RMS_HI, rmsLo:Y04_RMS_LO, ppvSpk:Y04_PPV_SPK, rmsSpk:Y04_RMS_SPK},
  {comp:'Z', ticks:TICKS_04, ppvBody:Z04_PPV_BODY, rmsBody:Z04_RMS_BODY, ppvHi:Z04_PPV_HI, ppvLo:Z04_PPV_LO, rmsHi:Z04_RMS_HI, rmsLo:Z04_RMS_LO, ppvSpk:Z04_PPV_SPK, rmsSpk:Z04_RMS_SPK},
  {comp:'X', ticks:TICKS_06, ppvBody:X06_PPV_BODY, rmsBody:X06_RMS_BODY, ppvHi:X06_PPV_HI, ppvLo:X06_PPV_LO, rmsHi:X06_RMS_HI, rmsLo:X06_RMS_LO, ppvSpk:X06_PPV_SPK, rmsSpk:X06_RMS_SPK},
  {comp:'Y', ticks:TICKS_06, ppvBody:Y06_PPV_BODY, rmsBody:Y06_RMS_BODY, ppvHi:Y06_PPV_HI, ppvLo:Y06_PPV_LO, rmsHi:Y06_RMS_HI, rmsLo:Y06_RMS_LO, ppvSpk:Y06_PPV_SPK, rmsSpk:Y06_RMS_SPK},
  {comp:'Z', ticks:TICKS_06, ppvBody:Z06_PPV_BODY, rmsBody:Z06_RMS_BODY, ppvHi:Z06_PPV_HI, ppvLo:Z06_PPV_LO, rmsHi:Z06_RMS_HI, rmsLo:Z06_RMS_LO, ppvSpk:Z06_PPV_SPK, rmsSpk:Z06_RMS_SPK},
  {comp:'X', ticks:TICKS_08, ppvBody:X08_PPV_BODY, rmsBody:X08_RMS_BODY, ppvHi:X08_PPV_HI, ppvLo:X08_PPV_LO, rmsHi:X08_RMS_HI, rmsLo:X08_RMS_LO, ppvSpk:X08_PPV_SPK, rmsSpk:X08_RMS_SPK},
  {comp:'Y', ticks:TICKS_08, ppvBody:Y08_PPV_BODY, rmsBody:Y08_RMS_BODY, ppvHi:Y08_PPV_HI, ppvLo:Y08_PPV_LO, rmsHi:Y08_RMS_HI, rmsLo:Y08_RMS_LO, ppvSpk:Y08_PPV_SPK, rmsSpk:Y08_RMS_SPK},
  {comp:'Z', ticks:TICKS_08, ppvBody:Z08_PPV_BODY, rmsBody:Z08_RMS_BODY, ppvHi:Z08_PPV_HI, ppvLo:Z08_PPV_LO, rmsHi:Z08_RMS_HI, rmsLo:Z08_RMS_LO, ppvSpk:Z08_PPV_SPK, rmsSpk:Z08_RMS_SPK}
];

// ---------- layout & style ----------
const GRID_TOPS = [24, 220, 416, 636, 832, 1028, 1249, 1445, 1641];
const GRID_H = 134, GRID_LEFT = 62, GRID_RIGHT = -1;
const TITLE_PANELS = [0, 3, 6];
const FONT = 'DejaVu Sans';
const C_PPV = '#4682b4', C_RMS = '#006400', C_AX = '#333333';
const WINDOW_S = 7200, TICK_S = 600;
const TOOTH_HALF_S = 12;   // half-width of a drawn per-minute peak, seconds

// trace band: solid body with narrow per-minute peaks on top and troughs below
function bandSeries(name, color, body, hi, lo, gi) {
  return {
    type: 'custom', name, xAxisIndex: gi, yAxisIndex: gi, clip: true, silent: true,
    itemStyle: { color }, data: [[0, body[1] * UNIT]], encode: { x: 0, y: 1 },
    renderItem: function (params, api) {
      const top = body[1] * UNIT, bot = body[0] * UNIT, w = TOOTH_HALF_S;
      const pts = [api.coord([0, top])];
      for (let m = 0; m < hi.length; m++) {
        const t = 60 * m + 30;
        pts.push(api.coord([t - w, top]), api.coord([t, hi[m] * UNIT]), api.coord([t + w, top]));
      }
      pts.push(api.coord([WINDOW_S, top]));
      pts.push(api.coord([WINDOW_S, bot]));
      for (let m = lo.length - 1; m >= 0; m--) {
        const t = 60 * m;
        pts.push(api.coord([Math.min(WINDOW_S, t + w), bot]), api.coord([t, lo[m] * UNIT]), api.coord([Math.max(0, t - w), bot]));
      }
      pts.push(api.coord([0, bot]));
      return { type: 'polygon', shape: { points: pts }, style: { fill: color } };
    }
  };
}
function spikeSeries(name, color, body, spikes, gi) {
  const data = spikes.map(function (s) {
    const base = s[1] > body[1] ? body[0] : body[1];
    return [s[0] * 60, base * UNIT, s[1] * UNIT];
  });
  return {
    type: 'custom', name, xAxisIndex: gi, yAxisIndex: gi, clip: true, silent: true,
    itemStyle: { color }, data, encode: { x: 0, y: [1, 2] },
    renderItem: function (params, api) {
      const a = api.coord([api.value(0), api.value(1)]);
      const b = api.coord([api.value(0), api.value(2)]);
      return { type: 'line', shape: { x1: a[0], y1: a[1], x2: b[0], y2: b[1] }, style: { stroke: color, lineWidth: 1.3 } };
    }
  };
}

const grid = [], xAxis = [], yAxis = [], series = [], legend = [], title = [];
PANELS.forEach(function (p, i) {
  const top = GRID_TOPS[i];
  grid.push({ left: GRID_LEFT, right: GRID_RIGHT, top: top, height: GRID_H, show: true, borderColor: C_AX, borderWidth: 1 });
  xAxis.push({
    gridIndex: i, type: 'value', min: 0, max: WINDOW_S, interval: TICK_S,
    name: 'Time of Measurement [hh:mm]', nameLocation: 'middle', nameGap: 39,
    nameTextStyle: { fontFamily: FONT, fontSize: 12.5, color: '#000' },
    axisLine: { show: true, lineStyle: { color: C_AX, width: 1 } },
    axisTick: { show: true, length: 4, lineStyle: { color: C_AX } },
    splitLine: { show: false },
    axisLabel: {
      rotate: 45, margin: 7, fontFamily: FONT, fontSize: 11, color: '#000',
      formatter: function (v) { return p.ticks[Math.round(v / TICK_S)] || ''; }
    }
  });
  yAxis.push({
    gridIndex: i, type: 'log', logBase: 10, min: 1e-4, max: 2,
    name: p.comp + ' [mm/s]', nameLocation: 'middle', nameGap: 39, nameRotate: 90,
    nameTextStyle: { fontFamily: FONT, fontSize: 12.5, color: '#000' },
    axisLine: { show: true, lineStyle: { color: C_AX, width: 1 } },
    axisTick: { show: true, length: 4, lineStyle: { color: C_AX } },
    splitLine: { show: false },
    axisLabel: {
      margin: 5, showMaxLabel: false,
      formatter: function (v) {
        const l = Math.log10(v), e = Math.round(l);
        if (Math.abs(l - e) > 1e-6) return '';
        return '{b|10}{s|' + (e < 0 ? '\u2212' : '') + Math.abs(e) + '}';
      },
      rich: {
        b: { fontFamily: FONT, fontSize: 12.5, color: '#000' },
        s: { fontFamily: FONT, fontSize: 9, color: '#000', verticalAlign: 'top', lineHeight: 20 }
      }
    }
  });
  series.push(bandSeries('PPV', C_PPV, p.ppvBody, p.ppvHi, p.ppvLo, i));
  series.push(spikeSeries('PPV', C_PPV, p.ppvBody, p.ppvSpk, i));
  series.push(bandSeries('RMS', C_RMS, p.rmsBody, p.rmsHi, p.rmsLo, i));
  series.push(spikeSeries('RMS', C_RMS, p.rmsBody, p.rmsSpk, i));
  legend.push({
    data: ['PPV', 'RMS'], orient: 'vertical', right: 5, top: top + 6,
    icon: 'rect', itemWidth: 23, itemHeight: 2, itemGap: 3, padding: [4, 7, 3, 4],
    borderColor: '#cccccc', borderWidth: 1, borderRadius: 3, backgroundColor: 'rgba(255,255,255,0.8)',
    textStyle: { fontFamily: FONT, fontSize: 11.5, lineHeight: 14, color: '#000', padding: [0, 0, 0, 3] },
    selectedMode: false
  });
});
TITLE_PANELS.forEach(function (gi) {
  title.push({
    text: TITLE, left: 570, top: GRID_TOPS[gi] - 16, textAlign: 'center', padding: 0,
    textStyle: { fontFamily: FONT, fontSize: 12.5, fontWeight: 'normal', color: '#000' }
  });
});

const chart = echarts.init(document.getElementById('c'), null, { renderer: 'canvas' });
chart.setOption({ animation: false, backgroundColor: '#ffffff', title, grid, xAxis, yAxis, legend, series });
</script></body></html>
